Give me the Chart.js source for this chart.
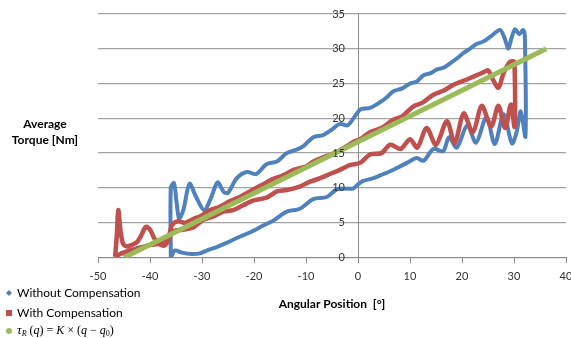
<!DOCTYPE html>
<html>
<head>
<meta charset="utf-8">
<script src="https://cdn.jsdelivr.net/npm/chart.js@4.4.1/dist/chart.umd.min.js"></script>
<style>
  html, body { margin: 0; padding: 0; background: #fff; }
  #wrap { width: 571px; height: 338px; }
</style>
</head>
<body>
<div id="wrap"><canvas id="torqueChart" width="571" height="338"></canvas></div>
<script>
// [angular position (deg), average torque (Nm)], loop order
const withoutCompensation = [
  [-36.0, 0.0], [-36.0, 10.0], [-35.4, 10.7], [-34.9, 8.0], [-34.4, 5.6], [-33.6, 6.8],
  [-32.4, 10.6], [-31.2, 8.8], [-29.6, 6.8], [-28.3, 8.5], [-27.0, 10.8], [-25.8, 9.4],
  [-25.0, 9.3], [-23.3, 11.4], [-21.4, 12.3], [-19.6, 12.0], [-17.6, 13.4], [-15.6, 13.8],
  [-13.7, 15.0], [-11.8, 15.5], [-10.5, 16.0], [-8.6, 17.3], [-6.7, 17.6], [-5.0, 18.4],
  [-3.5, 19.2], [-2.0, 19.0], [-0.5, 20.4], [0.5, 21.3], [2.3, 21.5], [4.0, 22.2],
  [5.5, 23.0], [6.8, 23.9], [8.5, 24.3], [10.0, 25.0], [11.3, 25.3], [12.6, 26.2],
  [14.0, 26.5], [15.1, 27.0], [16.5, 27.3], [17.7, 27.9], [19.0, 28.6], [20.3, 29.4],
  [21.5, 30.0], [22.8, 30.7], [24.0, 31.0], [25.4, 31.7], [27.3, 32.7], [28.2, 31.5],
  [28.9, 30.0], [29.5, 31.5], [30.2, 32.8], [31.0, 32.1], [31.8, 32.7], [32.1, 31.5],
  [32.2, 17.4], [31.3, 21.0], [30.5, 18.0], [29.6, 16.4], [28.0, 20.6], [26.3, 16.3],
  [24.7, 20.2], [22.7, 16.5], [21.0, 19.0], [19.0, 15.8], [17.5, 17.3], [16.4, 15.3],
  [14.5, 15.6], [12.6, 13.9], [11.3, 14.3], [9.4, 13.6], [8.1, 13.1], [6.2, 12.4],
  [4.9, 12.0], [3.0, 11.4], [1.0, 11.0], [0.0, 10.5], [-1.0, 9.9], [-2.2, 9.9],
  [-4.1, 9.8], [-6.0, 8.7], [-8.6, 8.4], [-11.2, 7.0], [-13.7, 6.6], [-16.3, 5.3],
  [-18.2, 4.6], [-20.8, 3.6], [-23.3, 2.8], [-25.3, 2.1], [-27.2, 1.5], [-29.1, 1.0],
  [-30.4, 0.6], [-32.0, 0.5], [-33.9, 0.7], [-35.2, 1.0], [-36.0, 0.0]
];

const withCompensation = [
  [-46.7, 0.1], [-46.4, 3.0], [-46.1, 6.8], [-45.7, 4.0], [-45.2, 2.0], [-44.5, 1.6],
  [-43.5, 1.8], [-42.5, 2.2], [-41.8, 3.0], [-40.8, 4.4], [-40.0, 4.0], [-39.2, 2.8],
  [-38.4, 2.0], [-37.3, 1.7], [-36.5, 2.5], [-35.8, 4.6], [-34.6, 5.2], [-33.2, 5.0],
  [-31.5, 5.6], [-30.4, 5.9], [-28.5, 6.8], [-26.6, 7.3], [-24.6, 8.1], [-22.7, 8.7],
  [-20.8, 9.5], [-18.8, 10.3], [-16.3, 11.3], [-14.4, 11.8], [-12.4, 12.6], [-9.9, 13.1],
  [-8.6, 13.8], [-6.0, 14.6], [-4.5, 15.0], [-2.8, 15.7], [-0.9, 16.6], [0.4, 17.0],
  [2.3, 18.0], [4.5, 18.6], [6.8, 19.8], [8.5, 20.3], [10.6, 21.7], [12.5, 22.3],
  [14.5, 23.4], [16.5, 24.0], [18.3, 24.8], [20.3, 25.4], [22.2, 26.0], [24.1, 26.6],
  [25.0, 26.9], [26.0, 25.5], [27.0, 24.4], [28.0, 26.5], [29.2, 28.1], [29.8, 28.2],
  [30.1, 28.0], [30.1, 18.8], [29.4, 22.0], [28.3, 18.6], [27.0, 21.8], [25.6, 18.8],
  [23.8, 21.8], [22.1, 18.0], [20.3, 20.7], [18.6, 16.4], [17.1, 19.6], [15.0, 16.2],
  [13.2, 18.6], [11.4, 15.8], [10.0, 17.0], [8.2, 15.6], [6.2, 16.2], [4.5, 15.0],
  [2.3, 14.8], [0.4, 13.6], [-1.5, 13.3], [-3.5, 12.6], [-5.4, 12.0], [-7.3, 11.4],
  [-9.2, 10.9], [-11.2, 10.2], [-13.7, 9.7], [-15.6, 9.5], [-17.6, 8.6], [-20.1, 8.2],
  [-22.1, 7.5], [-24.0, 6.8], [-25.9, 6.6], [-27.8, 5.9], [-29.8, 5.4], [-31.7, 4.3],
  [-33.6, 4.0], [-35.5, 3.8], [-36.5, 2.5], [-38.0, 2.0], [-40.0, 1.8], [-42.0, 1.4],
  [-44.0, 1.0], [-45.5, 0.6], [-46.7, 0.1]
];

// model line end points
const modelLine = [[-45.0, 0.0], [36.2, 30.0]];

const seriesNames = ["Without Compensation", "With Compensation"];
const seriesColours = ["#4F81BD", "#C0504D", "#9BBB59"];

const xMin = -50, xMax = 40, xStep = 10;
const yMin = 0, yMax = 35, yStep = 5;

function toPoints(pairs) {
  return pairs.map(p => ({ x: p[0], y: p[1] }));
}

// tick labels drawn from the scales' own ticks; Chart.js ticks.padding
// squeezes the chart area when the axes are pinned at x = 0 / y = 0
const tickLabels = {
  id: "tickLabels",
  afterDraw(chart) {
    const { ctx, scales } = chart;
    const axisX = scales.x.getPixelForValue(0);
    const axisY = scales.y.getPixelForValue(0);
    ctx.save();
    ctx.fillStyle = "#333";
    ctx.font = "11px Lato";
    ctx.textBaseline = "middle";
    ctx.textAlign = "right";
    scales.y.ticks.forEach(t => {
      ctx.fillText(String(t.value), axisX - 13, scales.y.getPixelForValue(t.value));
    });
    ctx.textAlign = "center";
    scales.x.ticks.forEach(t => {
      ctx.fillText(String(t.value), scales.x.getPixelForValue(t.value), axisY + 19);
    });
    ctx.restore();
  }
};

// axis titles + legend drawn by hand (legend sits under the y axis title)
const chartTexts = {
  id: "chartTexts",
  afterDraw(chart) {
    const ctx = chart.ctx;
    ctx.save();
    ctx.fillStyle = "#000";
    ctx.font = "bold 12px Lato";
    ctx.textAlign = "center";
    ctx.textBaseline = "middle";
    ctx.fillText("Average", 45, 124);
    ctx.fillText("Torque [Nm]", 45, 140);
    ctx.fillText("Angular Position  [\u00B0]", 332, 304);

    // markers
    ctx.fillStyle = seriesColours[0];
    ctx.beginPath();
    ctx.moveTo(9, 290); ctx.lineTo(12, 293); ctx.lineTo(9, 296); ctx.lineTo(6, 293);
    ctx.closePath();
    ctx.fill();
    ctx.fillStyle = seriesColours[1];
    ctx.fillRect(6, 310, 6, 6);
    ctx.fillStyle = seriesColours[2];
    ctx.beginPath();
    ctx.arc(9, 331, 3, 0, Math.PI * 2);
    ctx.fill();

    ctx.fillStyle = "#000";
    ctx.textAlign = "left";
    ctx.font = "12px Lato";
    ctx.fillText(seriesNames[0], 17, 293);
    ctx.fillText(seriesNames[1], 17, 313);

    // τR (q) = K × (q − q0)
    const it = "italic 12px 'Liberation Serif'";
    const up = "12px 'Liberation Serif'";
    const sub = "italic 8px 'Liberation Serif'";
    const parts = [
      ["\u03C4", "italic 13px 'Liberation Serif'", 0], ["R", sub, 3], [" (", up, 0], ["q", it, 0],
      [") = ", up, 0], ["K", it, 0], [" \u00D7 (", up, 0], ["q", it, 0],
      [" \u2212 ", up, 0], ["q", it, 0], ["0", "8px 'Liberation Serif'", 3], [")", up, 0]
    ];
    let x = 17;
    parts.forEach(([t, f, dy]) => {
      ctx.font = f;
      ctx.fillText(t, x, 331 + dy);
      x += ctx.measureText(t).width;
    });
    ctx.restore();
  }
};

const ctx = document.getElementById("torqueChart").getContext("2d");
new Chart(ctx, {
  type: "scatter",
  data: {
    datasets: [
      {
        label: "model",
        data: toPoints(modelLine),
        showLine: true,
        borderColor: seriesColours[2],
        borderWidth: 5,
        pointRadius: 0,
        order: 0,
      },
      {
        label: seriesNames[1],
        data: toPoints(withCompensation),
        showLine: true,
        borderColor: seriesColours[1],
        borderWidth: 4.5,
        pointRadius: 0,
        tension: 0.3,
        order: 1,
      },
      {
        label: seriesNames[0],
        data: toPoints(withoutCompensation),
        showLine: true,
        borderColor: seriesColours[0],
        borderWidth: 4,
        pointRadius: 0,
        tension: 0.3,
        order: 2,
      },
    ],
  },
  options: {
    responsive: false,
    animation: false,
    layout: { padding: { left: 98, right: 5, top: 14, bottom: 80.5 } },
    plugins: {
      legend: { display: false },
      tooltip: { enabled: false },
    },
    scales: {
      x: {
        type: "linear",
        position: { y: 0 },
        min: xMin,
        max: xMax,
        ticks: {
          stepSize: xStep,
          display: false,
        },
        grid: {
          drawOnChartArea: false,
          drawTicks: true,
          tickLength: 5,
          color: "#8a8a8a",
        },
        border: { color: "#8a8a8a", width: 1 },
      },
      y: {
        type: "linear",
        position: { x: 0 },
        min: yMin,
        max: yMax,
        ticks: {
          stepSize: yStep,
          display: false,
        },
        grid: {
          drawTicks: false,
          color: "#a3a3a3",
          lineWidth: 1.3,
        },
        border: { color: "#8a8a8a", width: 1 },
      },
    },
  },
  plugins: [tickLabels, chartTexts],
});
</script>
</body>
</html>
